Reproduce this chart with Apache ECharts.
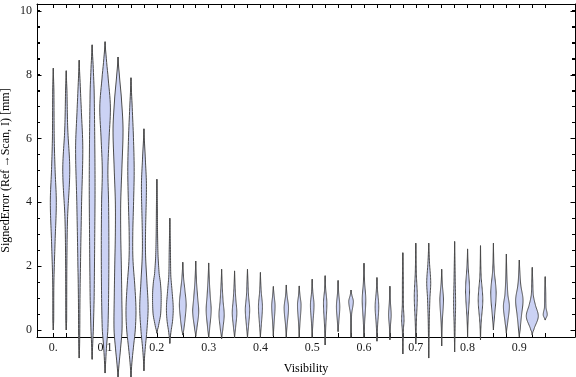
<!DOCTYPE html>
<html>
<head>
<meta charset="utf-8">
<script src="https://cdn.jsdelivr.net/npm/echarts@6/dist/echarts.min.js"></script>
<style>
  html, body { margin: 0; padding: 0; background: #fff; }
  #main { width: 576px; height: 377px; }
</style>
</head>
<body>
<div id="main"></div>
<script>
// violin centres (visibility)
const positions = [0, 0.025, 0.05, 0.075, 0.1, 0.125, 0.15, 0.175, 0.2, 0.225,
  0.25, 0.275, 0.3, 0.325, 0.35, 0.375, 0.4, 0.425, 0.45, 0.475,
  0.5, 0.525, 0.55, 0.575, 0.6, 0.625, 0.65, 0.675, 0.7, 0.725,
  0.75, 0.775, 0.8, 0.825, 0.85, 0.875, 0.9, 0.925, 0.95]
const mins = [0, 0, -0.88, -0.92, -1.35, -1.47, -1.5, -1.28, -0.1, -0.42,
  -0.16, -0.2, -0.25, -0.27, -0.24, -0.24, -0.23, -0.19, -0.23, -0.23,
  -0.23, -0.47, -0.05, -0.23, -0.23, -0.35, -0.31, -0.75, -0.44, -0.88,
  -0.5, -0.69, -0.23, -0.31, 0, -0.1, -0.21, -0.16, 0.31]
const maxs = [8.2, 8.12, 8.45, 8.93, 9.03, 8.55, 7.9, 6.3, 4.72, 3.5,
  2.12, 2.16, 2.1, 1.9, 1.85, 1.9, 1.8, 1.36, 1.41, 1.38,
  1.59, 1.7, 1.55, 1.25, 2.09, 1.64, 1.37, 2.42, 2.72, 2.72,
  1.9, 2.77, 2.54, 2.64, 2.72, 2.38, 2.19, 1.96, 1.67]
// density knots [error, density] between min and max
const profiles = [
  [[0.3,0.4],[1.5,0.6],[2.8,1.8],[4,3],[5,1.8],[6,0.9],[7.5,0.6]],
  [[0.3,0.4],[2,0.6],[3.5,1.3],[5,3.5],[6.3,1.5],[7.5,0.7]],
  [[-0.5,0.4],[0,0.6],[1,0.8],[2,1.3],[4,2.4],[5.7,3.6],[7,2],[7.7,1]],
  [[-0.5,0.5],[0,1.2],[1,2],[3,2.6],[4.5,2.9],[6,2.6],[7.5,2],[8.3,1]],
  [[-1,0.6],[-0.5,1.5],[0,2.8],[1,3.5],[2.5,3.8],[4,3.5],[5,2.8],[6,4],[7,5.3],[8,2.8],[8.6,1]],
  [[-1.2,0.7],[-0.7,2.2],[0,4],[1,3.8],[2,3.3],[3,2.7],[4,2.7],[5,3.8],[6.3,5],[7.3,3.3],[8,1.3]],
  [[-1,1],[-0.5,2.6],[0,4.3],[0.6,5],[1.3,4],[2.2,2],[3,1.8],[4,2.6],[5,3.2],[6,2.5],[7,1.2]],
  [[-0.7,1],[0,3],[0.7,4.2],[1.5,3],[2.3,1.7],[3,1.6],[4.5,2.5],[5.3,1.5]],
  [[0.1,1.5],[0.5,3.8],[1.1,4.3],[1.5,3.5],[1.75,2.3],[2.3,1.2],[3,0.7],[4,0.4]],
  [[-0.1,1],[0.3,2.8],[0.7,3.4],[1.2,2.3],[1.7,1],[2.5,0.6]],
  [[0,1],[0.3,2.2],[0.8,3.4],[1.3,2],[1.6,0.9]],
  [[0,1],[0.55,3],[1,2],[1.5,0.8]],
  [[0,0.9],[0.6,2.5],[1.1,1.5],[1.6,0.6]],
  [[0,1.2],[0.47,2.6],[0.9,1.5],[1.4,0.6]],
  [[0.05,1],[0.53,2.3],[1,1.2],[1.4,0.5]],
  [[0.1,1],[0.63,2.2],[1.1,1],[1.5,0.5]],
  [[0.1,0.8],[0.73,2],[1.2,0.8]],
  [[0.2,0.7],[0.75,1.7],[1.1,0.7]],
  [[0.1,0.7],[0.69,2.2],[1.1,0.7]],
  [[0.15,0.6],[0.78,1.8],[1.1,0.7]],
  [[0.15,0.6],[0.78,1.8],[1.2,0.6]],
  [[0.1,0.6],[0.84,1.7],[1.3,0.5]],
  [[0.2,0.6],[0.73,1.7],[1.2,0.5]],
  [[0.5,0.6],[0.89,2.3],[1.1,0.8]],
  [[0.2,0.6],[0.94,1.8],[1.5,0.6]],
  [[0.1,0.6],[0.73,1.8],[1.3,0.5]],
  [[0.1,0.5],[0.47,1.3],[0.9,0.5]],
  [[0,0.5],[0.31,1.2],[0.8,0.5],[1.6,0.4]],
  [[0.2,0.5],[1.04,1.5],[1.8,0.5]],
  [[0.3,0.5],[1,1.2],[1.5,2],[2.1,0.8]],
  [[0.2,0.5],[0.94,1.8],[1.5,0.5]],
  [[0.2,0.5],[0.8,1],[1.5,0.6]],
  [[0.3,0.5],[1.25,2],[2,0.6]],
  [[0.2,0.6],[0.94,2.3],[1.7,0.6]],
  [[0.3,0.8],[1.15,2.7],[1.9,0.7]],
  [[0.2,1.2],[0.73,3],[1.1,1.5],[1.6,0.6]],
  [[0,0.8],[0.4,2],[0.94,3.7],[1.4,1.5],[1.8,0.6]],
  [[0,1.5],[0.42,6],[0.8,3],[1.1,1],[1.5,0.5]],
  [[0.47,2],[0.7,0.8],[1.2,0.5]]
]
const xLabels = [0, 0.1, 0.2, 0.3, 0.4, 0.5, 0.6, 0.7, 0.8, 0.9]
const yLabels = [0, 2, 4, 6, 8, 10]
const yMinorTicks = [0, 0.5, 1, 1.5, 2, 2.5, 3, 3.5, 4, 4.5, 5, 5.5, 6, 6.5, 7, 7.5, 8, 8.5, 9, 9.5, 10]

const DENSITY_SCALE = 0.00193 // x units per density unit
const FONT = 'Liberation Serif'
const X_MIN = -0.0315, X_MAX = 1.0075
const Y_MIN = -0.22, Y_MAX = 10.21

// catmull-rom through the knots
function densityAt(knots, y) {
  let k = 0
  while (k < knots.length - 2 && y > knots[k + 1][0]) k++
  const p0 = knots[Math.max(k - 1, 0)][1]
  const p1 = knots[k][1]
  const p2 = knots[k + 1][1]
  const p3 = knots[Math.min(k + 2, knots.length - 1)][1]
  const t = (y - knots[k][0]) / (knots[k + 1][0] - knots[k][0])
  const t2 = t * t, t3 = t2 * t
  const v = 0.5 * (2 * p1 + (-p0 + p2) * t + (2 * p0 - 5 * p1 + 4 * p2 - p3) * t2 + (-p0 + 3 * p1 - 3 * p2 + p3) * t3)
  return Math.max(v, 0)
}

function renderViolin(params, api) {
  const i = params.dataIndex
  const x = api.value(0)
  const lo = api.value(1)
  const hi = api.value(2)
  const knots = [[lo, 0]].concat(profiles[i], [[hi, 0]])
  const steps = 80
  const right = [], left = []
  for (let s = 0; s <= steps; s++) {
    const y = lo + (hi - lo) * s / steps
    const d = densityAt(knots, y) * DENSITY_SCALE
    right.push(api.coord([x + d, y]))
    left.unshift(api.coord([x - d, y]))
  }
  const top = api.coord([x, hi])
  const bottom = api.coord([x, lo])
  return {
    type: 'group',
    children: [
      {
        type: 'line',
        shape: {x1: top[0], y1: top[1], x2: bottom[0], y2: bottom[1]},
        style: {stroke: '#444', lineWidth: 1.1}
      },
      {
        type: 'polygon',
        shape: {points: right.concat(left)},
        style: {fill: '#cbd2f4', stroke: '#4a4a4a', lineWidth: 1}
      }
    ]
  }
}

// frame ticks on the left and right edges, placed through the y scale
function renderFrameTick(params, api) {
  const v = api.value(0)
  const l = api.coord([X_MIN, v])
  const r = api.coord([X_MAX, v])
  const len = yLabels.indexOf(v) >= 0 ? 4.5 : 3
  const py = Math.round(l[1]) + 0.5
  return {
    type: 'group',
    children: [
      {type: 'line', shape: {x1: l[0], y1: py, x2: l[0] + len, y2: py}, style: {stroke: '#000', lineWidth: 1}},
      {type: 'line', shape: {x1: r[0], y1: py, x2: r[0] - len, y2: py}, style: {stroke: '#000', lineWidth: 1}}
    ]
  }
}

const chart = echarts.init(document.getElementById('main'))
const axisLine = {show: true, onZero: false, lineStyle: {color: '#000', width: 1}}

const option = {
  animation: false,
  textStyle: {fontFamily: FONT},
  grid: {left: 37, right: 1, top: 4, bottom: 40, containLabel: false, outerBoundsMode: 'none'},
  xAxis: [
    {
      type: 'value', position: 'bottom', min: X_MIN, max: X_MAX,
      axisLine: axisLine,
      axisTick: {show: true, inside: true, length: 4, customValues: positions, lineStyle: {color: '#000'}},
      axisLabel: {
        show: true, margin: 5, fontFamily: FONT, fontSize: 12, color: '#1a1a1a',
        customValues: xLabels,
        formatter: v => (Math.round(v * 10) === 0 ? '0.' : (Math.round(v * 10) / 10).toString())
      },
      splitLine: {show: false},
      name: 'Visibility', nameLocation: 'middle', nameGap: 26, nameMoveOverlap: false,
      nameTextStyle: {fontFamily: FONT, fontSize: 12, color: '#000'}
    },
    {
      type: 'value', position: 'top', min: X_MIN, max: X_MAX,
      axisLine: axisLine,
      axisTick: {show: true, inside: true, length: 4, customValues: positions, lineStyle: {color: '#000'}},
      axisLabel: {show: false},
      splitLine: {show: false}
    }
  ],
  yAxis: [
    {
      type: 'value', position: 'left', min: Y_MIN, max: Y_MAX,
      axisLine: axisLine,
      axisTick: {show: true, inside: true, length: 3, customValues: yMinorTicks, lineStyle: {color: '#000'}},
      axisLabel: {
        show: true, margin: 5, fontFamily: FONT, fontSize: 12, color: '#1a1a1a',
        customValues: yLabels
      },
      splitLine: {show: false},
      name: 'SignedError (Ref\u2009\u2192Scan, I) [mm]', nameLocation: 'middle', nameGap: 25,
      nameMoveOverlap: false,
      nameTextStyle: {fontFamily: FONT, fontSize: 12, color: '#000'}
    },
    {
      type: 'value', position: 'right', min: Y_MIN, max: Y_MAX,
      axisLine: axisLine,
      axisTick: {show: true, inside: true, length: 3, customValues: yMinorTicks, lineStyle: {color: '#000'}},
      axisLabel: {show: false},
      splitLine: {show: false}
    }
  ],
  series: [
    {
      type: 'custom',
      clip: false,
      xAxisIndex: 0,
      yAxisIndex: 0,
      renderItem: renderViolin,
      encode: {x: 0, y: [1, 2]},
      data: positions.map((p, i) => [p, mins[i], maxs[i]])
    },
    {
      type: 'custom',
      clip: false,
      silent: true,
      xAxisIndex: 0,
      yAxisIndex: 0,
      z: 5,
      renderItem: renderFrameTick,
      encode: {y: 0},
      data: yMinorTicks.map(v => [v])
    }
  ]
}
chart.setOption(option)
</script>
</body>
</html>
